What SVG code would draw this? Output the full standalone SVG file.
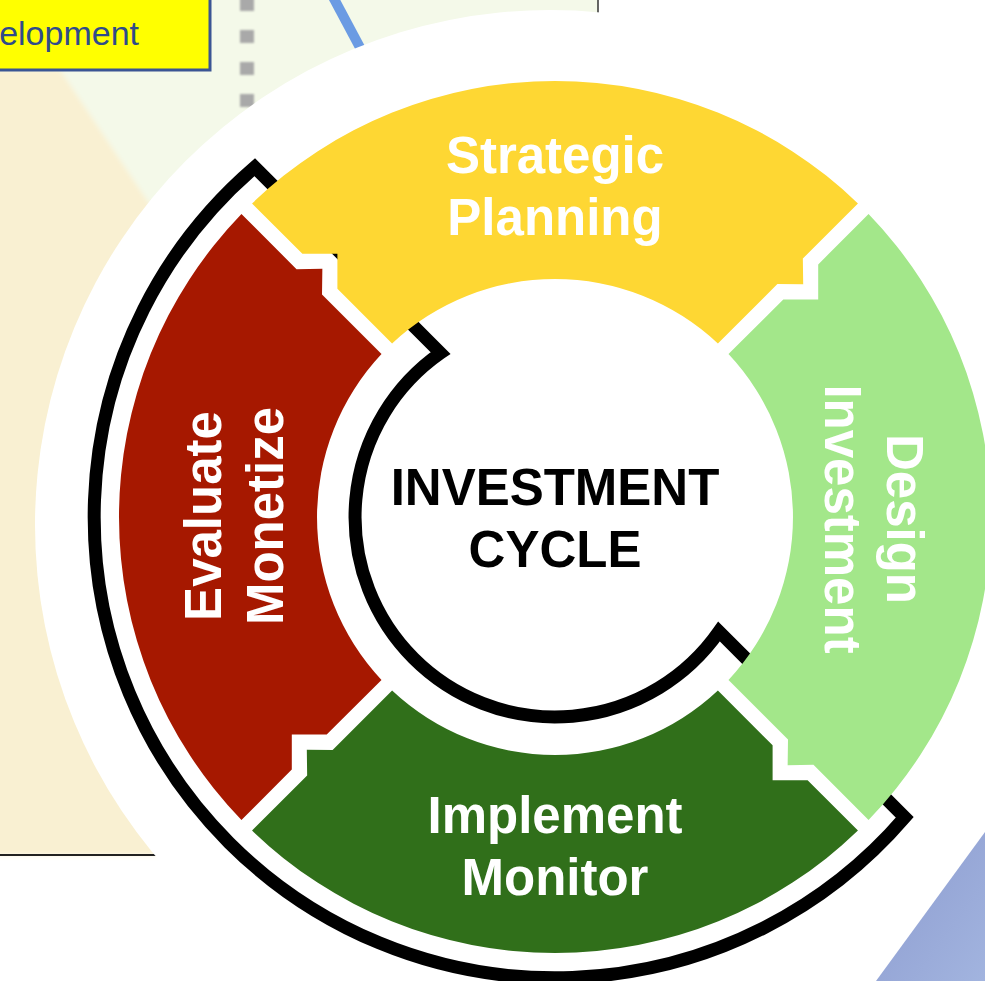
<svg xmlns="http://www.w3.org/2000/svg" xmlns:xlink="http://www.w3.org/1999/xlink" width="985" height="981" viewBox="0 0 985 981">
  <style>
    .lbl { font-family: "Liberation Sans", Arial, sans-serif; font-weight: bold; font-size: 51px; text-anchor: middle; fill: #ffffff; }
    .hub { font-family: "Liberation Sans", Arial, sans-serif; font-weight: bold; font-size: 51px; text-anchor: middle; fill: #000000; }
    .dash { fill: #a9a9a9; }
  </style>
  <defs>
    <filter id="soft" x="-10%" y="-10%" width="120%" height="120%">
      <feGaussianBlur stdDeviation="2.5"/>
    </filter>
    <filter id="soft1" x="-20%" y="-20%" width="140%" height="140%">
      <feGaussianBlur stdDeviation="0.8"/>
    </filter>
    <linearGradient id="bluePanel" x1="0" y1="0" x2="1" y2="1">
      <stop offset="0" stop-color="#8c9bcf"/>
      <stop offset="1" stop-color="#a2b4df"/>
    </linearGradient>
    <!-- one quarter of the cycle ring: notch on its leading edge, tab on its trailing edge -->
    <path id="seg" d="M 252.05 203.44 A 436 436 0 0 1 857.95 203.44 L 802.84 258.55 L 803.19 284.36 L 777.4 284.0 L 717.9 343.5 A 238 238 0 0 0 392.1 343.5 L 337.4 288.7 L 337.4 253.8 L 302.4 253.8 Z"/>
  </defs>

  <!-- slide background -->
  <rect x="0" y="0" width="985" height="981" fill="#ffffff"/>
  <rect x="0" y="0" width="598" height="400" fill="#f4f9e9"/>
  <polygon points="-20,70 60,70 150,205 170,215 170,855 -20,855" fill="#f9f0d2" filter="url(#soft)"/>
  <line x1="0" y1="855" x2="175" y2="855" stroke="#222" stroke-width="2"/>
  <line x1="598" y1="0" x2="598" y2="14" stroke="#333" stroke-width="1.5"/>

  <g id="dev-box">
    <rect x="-5" y="-5" width="215" height="75" fill="#ffff00" stroke="#3a5593" stroke-width="3"/>
    <text x="139" y="45" font-family="Liberation Sans, Arial, sans-serif" font-size="34" fill="#2f4b8a" text-anchor="end">elopment</text>
  </g>

  <g id="dashes" filter="url(#soft1)">
    <rect class="dash" x="240" y="-2" width="14" height="13"/>
    <rect class="dash" x="240" y="30" width="14" height="13"/>
    <rect class="dash" x="240" y="62" width="14" height="13"/>
    <rect class="dash" x="240" y="94" width="14" height="13"/>
  </g>
  <line x1="332" y1="-5" x2="372" y2="70" stroke="#6b9be3" stroke-width="10"/>
  <polygon points="985,832 985,981 876,981" fill="url(#bluePanel)"/>

  <!-- white backdrop disc -->
  <circle cx="550" cy="525" r="515" fill="#ffffff"/>

  <!-- connectors: black band outlining the left/bottom half of the cycle -->
  <g id="connectors">
    <path d="M 254.7 167.2 A 461 461 0 1 0 904.8 817.3 L 719 631.5 A 200 200 0 1 1 440.5 353 Z" fill="none" stroke="#000000" stroke-width="13" stroke-linejoin="miter" stroke-miterlimit="10"/>
  </g>

  <g id="strategic-planning">
    <use xlink:href="#seg" fill="#fed733"/>
    <text class="lbl" x="555" y="173">Strategic</text>
    <text class="lbl" x="555" y="235">Planning</text>
  </g>

  <g id="design-investment">
    <use xlink:href="#seg" fill="#a3e78a" transform="rotate(90 555 517)"/>
    <text class="lbl" transform="translate(887 519) rotate(90)">Design</text>
    <text class="lbl" transform="translate(825 519) rotate(90)">Investment</text>
  </g>

  <g id="implement-monitor">
    <use xlink:href="#seg" fill="#306f1a" transform="rotate(180 555 517)"/>
    <text class="lbl" x="555" y="833">Implement</text>
    <text class="lbl" x="555" y="895">Monitor</text>
  </g>

  <g id="evaluate-monetize">
    <use xlink:href="#seg" fill="#a61800" transform="rotate(270 555 517)"/>
    <text class="lbl" transform="translate(221 516) rotate(-90)">Evaluate</text>
    <text class="lbl" transform="translate(283 516) rotate(-90)">Monetize</text>
  </g>

  <g id="investment-cycle">
    <text class="hub" x="555" y="505">INVESTMENT</text>
    <text class="hub" x="555" y="567">CYCLE</text>
  </g>
</svg>
